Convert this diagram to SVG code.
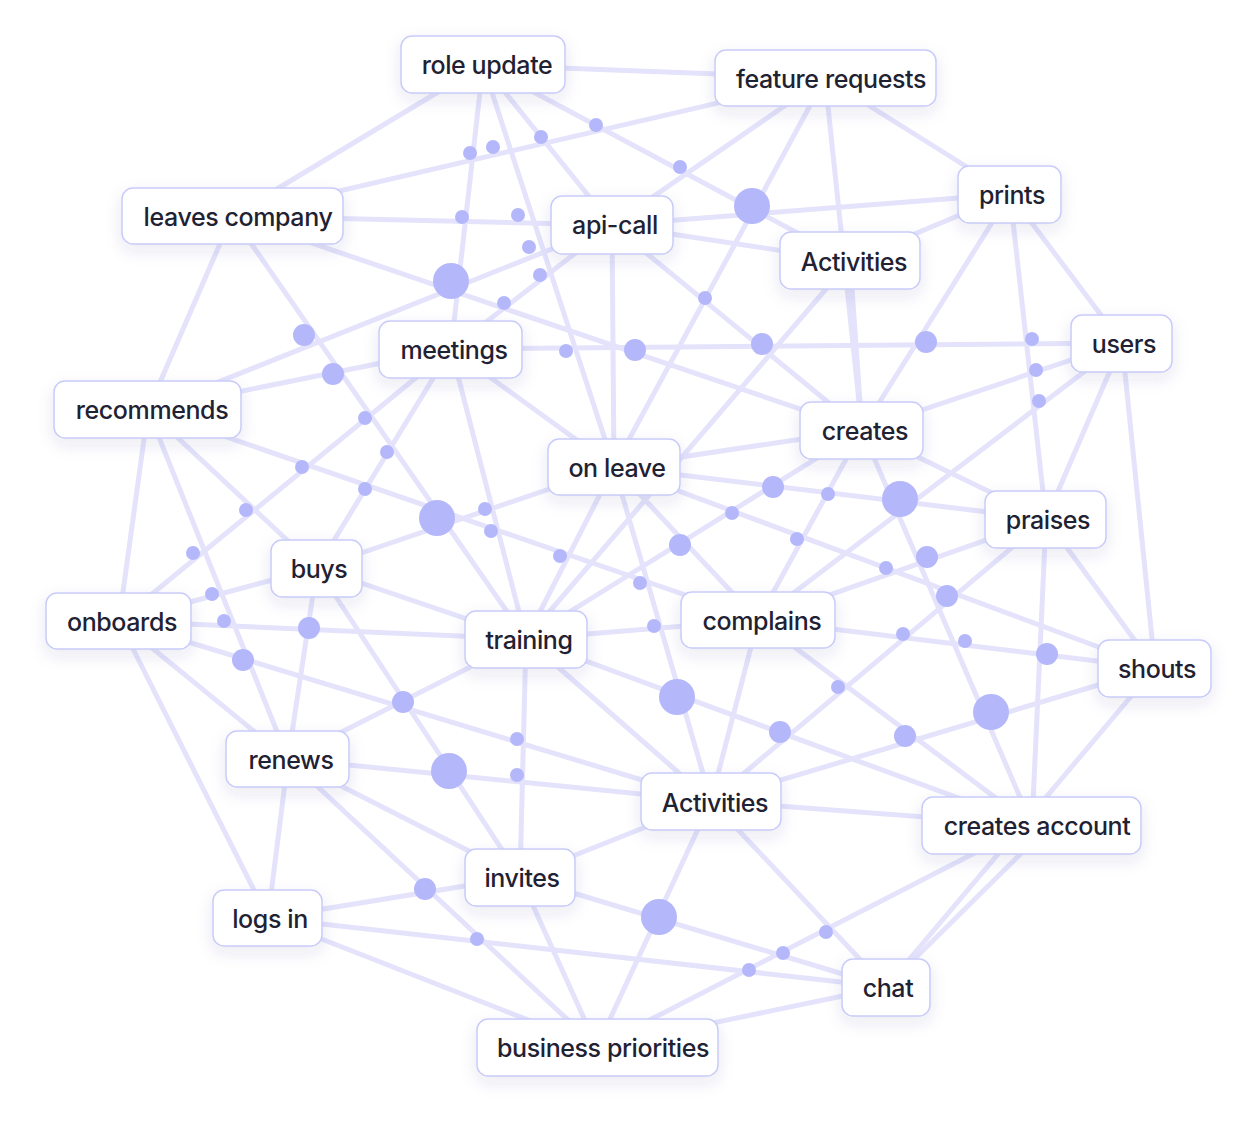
<svg xmlns="http://www.w3.org/2000/svg" width="1257" height="1131" viewBox="0 0 1257 1131">
<defs>
<filter id="sh" x="-30%" y="-50%" width="160%" height="220%"><feDropShadow dx="0" dy="6" stdDeviation="8" flood-color="#3a3f80" flood-opacity="0.10"/></filter>
<style>
.e line{stroke:#e4e3fb;stroke-width:5;stroke-linecap:round}
.d circle{fill:#b4b8fb}
.n rect{fill:#fff;stroke:#c9ccf9;stroke-width:1.5;filter:url(#sh)}
.n text{font-family:Inter,"Noto Sans","Liberation Sans",sans-serif;font-size:25px;font-weight:500;letter-spacing:-0.4px;fill:#1f2233;text-anchor:middle;dominant-baseline:central}
</style>
</defs>
<rect width="1257" height="1131" fill="#fff"/>
<g id="connectors" class="e">
<line x1="483" y1="65" x2="825" y2="78"/>
<line x1="483" y1="65" x2="232" y2="216"/>
<line x1="232" y1="216" x2="825" y2="78"/>
<line x1="483" y1="65" x2="451" y2="349"/>
<line x1="483" y1="65" x2="614" y2="467"/>
<line x1="483" y1="65" x2="612" y2="225"/>
<line x1="483" y1="65" x2="850" y2="261"/>
<line x1="825" y1="78" x2="612" y2="225"/>
<line x1="825" y1="78" x2="614" y2="467"/>
<line x1="825" y1="78" x2="862" y2="430"/>
<line x1="825" y1="78" x2="1010" y2="194"/>
<line x1="1010" y1="194" x2="1122" y2="343"/>
<line x1="232" y1="216" x2="612" y2="225"/>
<line x1="232" y1="216" x2="148" y2="410"/>
<line x1="232" y1="216" x2="526" y2="639"/>
<line x1="232" y1="216" x2="862" y2="430"/>
<line x1="612" y1="225" x2="148" y2="410"/>
<line x1="612" y1="225" x2="451" y2="349"/>
<line x1="612" y1="225" x2="614" y2="467"/>
<line x1="612" y1="225" x2="1010" y2="194"/>
<line x1="612" y1="225" x2="850" y2="261"/>
<line x1="612" y1="225" x2="862" y2="430"/>
<line x1="850" y1="261" x2="526" y2="639"/>
<line x1="850" y1="261" x2="862" y2="430"/>
<line x1="1010" y1="194" x2="1046" y2="519"/>
<line x1="1010" y1="194" x2="862" y2="430"/>
<line x1="1010" y1="194" x2="850" y2="261"/>
<line x1="451" y1="349" x2="1122" y2="343"/>
<line x1="1122" y1="343" x2="862" y2="430"/>
<line x1="1122" y1="343" x2="1046" y2="519"/>
<line x1="1122" y1="343" x2="1155" y2="668"/>
<line x1="148" y1="410" x2="451" y2="349"/>
<line x1="148" y1="410" x2="119" y2="621"/>
<line x1="148" y1="410" x2="288" y2="759"/>
<line x1="148" y1="410" x2="317" y2="568"/>
<line x1="148" y1="410" x2="758" y2="620"/>
<line x1="119" y1="621" x2="451" y2="349"/>
<line x1="451" y1="349" x2="317" y2="568"/>
<line x1="451" y1="349" x2="526" y2="639"/>
<line x1="451" y1="349" x2="614" y2="467"/>
<line x1="317" y1="568" x2="614" y2="467"/>
<line x1="317" y1="568" x2="119" y2="621"/>
<line x1="317" y1="568" x2="288" y2="759"/>
<line x1="317" y1="568" x2="526" y2="639"/>
<line x1="317" y1="568" x2="520" y2="877"/>
<line x1="119" y1="621" x2="526" y2="639"/>
<line x1="119" y1="621" x2="711" y2="801"/>
<line x1="119" y1="621" x2="288" y2="759"/>
<line x1="119" y1="621" x2="268" y2="918"/>
<line x1="288" y1="759" x2="526" y2="639"/>
<line x1="288" y1="759" x2="711" y2="801"/>
<line x1="288" y1="759" x2="268" y2="918"/>
<line x1="288" y1="759" x2="520" y2="877"/>
<line x1="288" y1="759" x2="597" y2="1047"/>
<line x1="526" y1="639" x2="520" y2="877"/>
<line x1="526" y1="639" x2="758" y2="620"/>
<line x1="526" y1="639" x2="614" y2="467"/>
<line x1="526" y1="639" x2="862" y2="430"/>
<line x1="526" y1="639" x2="1032" y2="825"/>
<line x1="526" y1="639" x2="711" y2="801"/>
<line x1="614" y1="467" x2="862" y2="430"/>
<line x1="614" y1="467" x2="1046" y2="519"/>
<line x1="614" y1="467" x2="1155" y2="668"/>
<line x1="614" y1="467" x2="711" y2="801"/>
<line x1="614" y1="467" x2="758" y2="620"/>
<line x1="862" y1="430" x2="758" y2="620"/>
<line x1="862" y1="430" x2="1046" y2="519"/>
<line x1="862" y1="430" x2="1032" y2="825"/>
<line x1="1122" y1="343" x2="758" y2="620"/>
<line x1="758" y1="620" x2="1046" y2="519"/>
<line x1="1046" y1="519" x2="711" y2="801"/>
<line x1="1046" y1="519" x2="1032" y2="825"/>
<line x1="1046" y1="519" x2="1155" y2="668"/>
<line x1="758" y1="620" x2="1155" y2="668"/>
<line x1="758" y1="620" x2="711" y2="801"/>
<line x1="758" y1="620" x2="1032" y2="825"/>
<line x1="1155" y1="668" x2="711" y2="801"/>
<line x1="1155" y1="668" x2="886" y2="987"/>
<line x1="711" y1="801" x2="1032" y2="825"/>
<line x1="711" y1="801" x2="520" y2="877"/>
<line x1="711" y1="801" x2="597" y2="1047"/>
<line x1="711" y1="801" x2="886" y2="987"/>
<line x1="1050" y1="825" x2="886" y2="987"/>
<line x1="1000" y1="840" x2="597" y2="1047"/>
<line x1="520" y1="877" x2="268" y2="918"/>
<line x1="520" y1="877" x2="886" y2="987"/>
<line x1="520" y1="877" x2="597" y2="1047"/>
<line x1="268" y1="918" x2="886" y2="987"/>
<line x1="268" y1="918" x2="597" y2="1047"/>
<line x1="597" y1="1047" x2="886" y2="987"/>
</g>
<g id="dots" class="d">
<circle cx="470" cy="153" r="7"/><circle cx="493" cy="147" r="7"/><circle cx="541" cy="137" r="7"/><circle cx="596" cy="125" r="7"/><circle cx="680" cy="167" r="7"/><circle cx="752" cy="206" r="18"/><circle cx="462" cy="217" r="7"/><circle cx="518" cy="215" r="7"/><circle cx="529" cy="247" r="7"/><circle cx="540" cy="275" r="7"/><circle cx="451" cy="281" r="18"/><circle cx="504" cy="303" r="7"/><circle cx="705" cy="298" r="7"/><circle cx="304" cy="335" r="11"/><circle cx="333" cy="374" r="11"/><circle cx="566" cy="351" r="7"/><circle cx="635" cy="350" r="11"/><circle cx="762" cy="344" r="11"/><circle cx="926" cy="342" r="11"/><circle cx="1032" cy="339" r="7"/><circle cx="1036" cy="370" r="7"/><circle cx="1039" cy="401" r="7"/><circle cx="365" cy="418" r="7"/><circle cx="387" cy="452" r="7"/><circle cx="302" cy="467" r="7"/><circle cx="365" cy="489" r="7"/><circle cx="437" cy="518" r="18"/><circle cx="485" cy="509" r="7"/><circle cx="491" cy="531" r="7"/><circle cx="246" cy="510" r="7"/><circle cx="193" cy="553" r="7"/><circle cx="212" cy="594" r="7"/><circle cx="224" cy="621" r="7"/><circle cx="309" cy="628" r="11"/><circle cx="243" cy="660" r="11"/><circle cx="560" cy="556" r="7"/><circle cx="680" cy="545" r="11"/><circle cx="640" cy="583" r="7"/><circle cx="654" cy="626" r="7"/><circle cx="773" cy="487" r="11"/><circle cx="828" cy="494" r="7"/><circle cx="732" cy="513" r="7"/><circle cx="797" cy="539" r="7"/><circle cx="900" cy="499" r="18"/><circle cx="927" cy="557" r="11"/><circle cx="886" cy="568" r="7"/><circle cx="947" cy="596" r="11"/><circle cx="903" cy="634" r="7"/><circle cx="965" cy="641" r="7"/><circle cx="1047" cy="654" r="11"/><circle cx="991" cy="712" r="18"/><circle cx="905" cy="736" r="11"/><circle cx="838" cy="687" r="7"/><circle cx="780" cy="732" r="11"/><circle cx="677" cy="697" r="18"/><circle cx="403" cy="702" r="11"/><circle cx="449" cy="771" r="18"/><circle cx="517" cy="739" r="7"/><circle cx="517" cy="775" r="7"/><circle cx="425" cy="889" r="11"/><circle cx="477" cy="939" r="7"/><circle cx="659" cy="917" r="18"/><circle cx="826" cy="932" r="7"/><circle cx="783" cy="953" r="7"/><circle cx="749" cy="970" r="7"/>
</g>
<g id="n-role-update" class="n"><rect x="401" y="36" width="164" height="57" rx="11"/><text x="487" y="65">role update</text></g>
<g id="n-feature-requests" class="n"><rect x="715" y="50" width="221" height="56" rx="11"/><text x="831" y="79">feature requests</text></g>
<g id="n-leaves-company" class="n"><rect x="122" y="188" width="221" height="56" rx="11"/><text x="238" y="217">leaves company</text></g>
<g id="n-api-call" class="n"><rect x="551" y="196" width="122" height="58" rx="11"/><text x="615" y="225">api-call</text></g>
<g id="n-prints" class="n"><rect x="958" y="166" width="103" height="57" rx="11"/><text x="1012" y="195">prints</text></g>
<g id="n-activities-1" class="n"><rect x="780" y="232" width="140" height="57" rx="11"/><text x="854" y="262">Activities</text></g>
<g id="n-users" class="n"><rect x="1071" y="315" width="101" height="57" rx="11"/><text x="1124" y="344">users</text></g>
<g id="n-meetings" class="n"><rect x="379" y="321" width="143" height="57" rx="11"/><text x="454" y="350">meetings</text></g>
<g id="n-recommends" class="n"><rect x="54" y="381" width="187" height="57" rx="11"/><text x="152" y="410">recommends</text></g>
<g id="n-creates" class="n"><rect x="800" y="402" width="123" height="57" rx="11"/><text x="865" y="431">creates</text></g>
<g id="n-on-leave" class="n"><rect x="548" y="439" width="132" height="56" rx="11"/><text x="617" y="468">on leave</text></g>
<g id="n-praises" class="n"><rect x="985" y="491" width="121" height="57" rx="11"/><text x="1048" y="520">praises</text></g>
<g id="n-buys" class="n"><rect x="271" y="540" width="91" height="57" rx="11"/><text x="319" y="569">buys</text></g>
<g id="n-onboards" class="n"><rect x="46" y="593" width="145" height="56" rx="11"/><text x="122" y="622">onboards</text></g>
<g id="n-training" class="n"><rect x="465" y="611" width="122" height="57" rx="11"/><text x="529" y="640">training</text></g>
<g id="n-complains" class="n"><rect x="681" y="592" width="154" height="56" rx="11"/><text x="762" y="621">complains</text></g>
<g id="n-shouts" class="n"><rect x="1098" y="640" width="113" height="57" rx="11"/><text x="1157" y="669">shouts</text></g>
<g id="n-renews" class="n"><rect x="226" y="731" width="123" height="56" rx="11"/><text x="291" y="760">renews</text></g>
<g id="n-activities-2" class="n"><rect x="641" y="773" width="140" height="57" rx="11"/><text x="715" y="803">Activities</text></g>
<g id="n-creates-account" class="n"><rect x="922" y="797" width="219" height="57" rx="11"/><text x="1037" y="826">creates account</text></g>
<g id="n-invites" class="n"><rect x="465" y="849" width="110" height="57" rx="11"/><text x="522" y="878">invites</text></g>
<g id="n-logs-in" class="n"><rect x="213" y="890" width="109" height="56" rx="11"/><text x="270" y="919">logs in</text></g>
<g id="n-chat" class="n"><rect x="842" y="959" width="88" height="57" rx="11"/><text x="888" y="988">chat</text></g>
<g id="n-business-priorities" class="n"><rect x="477" y="1019" width="241" height="57" rx="11"/><text x="603" y="1048">business priorities</text></g>
</svg>
